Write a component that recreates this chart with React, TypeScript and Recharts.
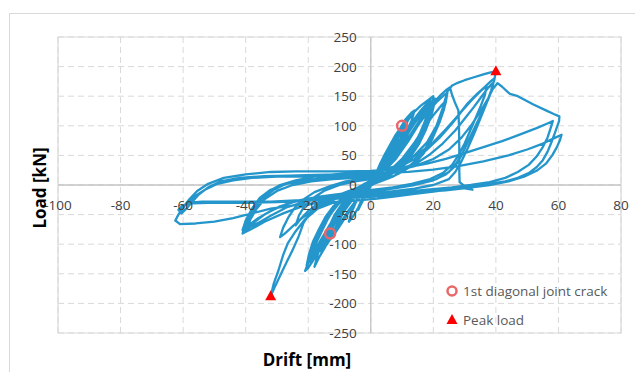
import React from "react";
import {
  ScatterChart,
  Scatter,
  XAxis,
  YAxis,
  CartesianGrid,
  ReferenceLine,
  ReferenceArea,
} from "recharts";

// ---------- data (drift mm, load kN) ----------
const smallCycles: number[][] = [
  [0, 0], [1, 10], [2, 22], [1.5, 14], [0.5, 3], [-0.5, -6], [-1.5, -16], [-2, -22], [-1.2, -10], [0, 0],
  [1, 12], [2.5, 28], [4, 45], [3.2, 32], [2, 16], [0.5, 3], [-1, -10], [-2.5, -26], [-4, -42], [-3, -28], [-1.5, -10], [0, 2],
  [1.5, 18], [3, 36], [4.5, 52], [6, 66], [5, 52], [3.5, 32], [2, 14], [0.5, 4], [-1, -6], [-2.5, -20], [-4, -38], [-5.5, -52], [-7, -62], [-6, -45], [-4.5, -26], [-3, -12], [-1, -2], [0.5, 6],
];

const cycles10: number[][] = [
  [2, 22], [4, 44], [6, 66], [8, 85], [10, 100], [9.2, 86], [8, 68], [6, 45], [4, 26], [2, 12], [0, 2], [-2, -10], [-4, -24], [-6, -38], [-8, -52], [-10, -66], [-12, -76], [-13, -82], [-12.2, -68], [-11, -52], [-9, -34], [-7, -20], [-5, -10], [-3, -3], [-1, 3], [1, 10],
  [3, 26], [5, 48], [7, 70], [9, 90], [11, 106], [12, 112], [11, 96], [9.5, 78], [7.5, 56], [5.5, 36], [3, 18], [1, 6], [-1, -4], [-3, -16], [-5, -30], [-7, -46], [-9, -62], [-11, -78], [-13, -92], [-15, -102], [-14, -86], [-12.5, -66], [-10.5, -46], [-8, -28], [-6, -16], [-3, -6], [-1, 2], [1, 12],
  [3, 30], [5, 50], [7, 72], [9, 92], [11, 110], [13, 122], [14, 126], [13, 108], [11, 86], [9, 64], [7, 46], [5, 30], [3, 16], [1, 6], [-1, -5], [-3, -18], [-6, -36], [-9, -58], [-12, -84], [-14, -100], [-16, -112], [-15, -96], [-13, -74], [-11, -52], [-8, -32], [-5, -16], [-2, -4], [0, 4],
  [2, 18], [4, 38], [6, 58], [8, 78], [10, 96], [11.5, 104], [10.6, 90], [9, 70], [7, 50], [5, 32], [3, 18], [1, 8], [-1, -2], [-3, -14], [-5, -28], [-7, -42], [-9, -58], [-11, -72], [-13, -86], [-14, -94], [-13, -76], [-11.5, -58], [-9.5, -40], [-7, -24], [-4, -10], [-1, 0], [1, 8],
];

const cycles20: number[][] = [
  [2, 16], [4, 32], [6, 52], [8, 72], [10, 92], [12, 110], [14, 124], [16, 134], [18, 142], [20, 150], [19.5, 136], [18.5, 118], [17, 98], [15, 76], [13, 58], [11, 44], [8, 30], [5, 20], [2, 10], [0, 4], [-2, -4], [-4, -12], [-6, -22], [-8, -36], [-10, -52], [-12, -70], [-14, -88], [-16, -106], [-18, -124], [-20, -140], [-21, -145], [-19.5, -125], [-18, -104], [-16, -82], [-14, -60], [-12, -42], [-9, -24], [-6, -12], [-3, -2], [0, 6],
  [3, 16], [6, 34], [8, 52], [10, 72], [12, 92], [14, 110], [16, 124], [18, 134], [20, 140], [19.4, 124], [18.2, 104], [16.5, 84], [14.5, 64], [12, 46], [9, 30], [6, 18], [3, 8], [0, 0], [-3, -10], [-6, -22], [-8, -34], [-10, -48], [-12, -66], [-14, -84], [-16, -102], [-18, -118], [-19.5, -130], [-18.5, -112], [-17, -92], [-15, -70], [-13, -50], [-10, -30], [-7, -16], [-4, -6], [-1, 4],
  [2, 14], [5, 30], [8, 50], [10, 68], [12, 88], [14, 104], [16, 118], [18, 128], [19.5, 134], [18.8, 116], [17.5, 96], [15.5, 74], [13, 54], [10, 36], [7, 22], [4, 10], [1, 2], [-2, -8], [-5, -18], [-8, -32], [-11, -52], [-13, -70], [-15, -88], [-17, -106], [-19, -122], [-18, -102], [-16, -80], [-14, -58], [-11, -36], [-8, -20], [-5, -8], [-2, 2], [1, 10],
  [3, 18], [6, 40], [9, 64], [12, 90], [15, 114], [17, 128], [19, 138], [20.5, 146], [20, 130], [19, 112], [17.5, 92], [15.5, 70], [13, 50], [10, 34], [7, 22], [4, 12], [1, 4], [-2, -6], [-5, -16], [-8, -30], [-11, -50], [-13, -68], [-15, -86], [-17, -104], [-19, -120], [-20.5, -136], [-19.8, -118], [-18.5, -96], [-16.5, -74], [-14.5, -54], [-12, -36], [-9, -22], [-6, -10], [-3, -2], [0, 6],
  [3, 20], [6, 42], [9, 68], [12, 94], [14, 112], [16, 126], [18, 138], [19, 144], [18.4, 126], [17.2, 106], [15.6, 86], [13.5, 64], [11, 46], [8, 30], [5, 18], [2, 8], [-1, -2], [-4, -12], [-7, -26], [-10, -44], [-13, -66], [-15, -84], [-17, -102], [-18.5, -118], [-20, -132], [-19, -112], [-17.5, -90], [-15.5, -68], [-13, -46], [-10, -28], [-7, -14], [-4, -4], [-1, 4], [2, 12],
  [4, 24], [7, 48], [10, 74], [13, 98], [16, 120], [18.5, 136], [20, 142], [19.2, 122], [17.8, 100], [16, 78], [14, 58], [11.5, 40], [8.5, 26], [5.5, 14], [2.5, 6], [-0.5, -2], [-3.5, -12], [-6, -26], [-8.5, -44], [-10.5, -64], [-12.5, -84], [-14.5, -104], [-16.5, -122], [-18, -138], [-17, -118], [-15.5, -96], [-13.5, -72], [-11.5, -50], [-9, -30], [-6, -14], [-3, -4], [0, 4], [2, 12],
];

const cycles25: number[][] = [
  [4, 22], [8, 44], [12, 74], [15, 100], [18, 122], [21, 140], [23.5, 152], [24.5, 156], [24, 140], [23, 122], [21.5, 100], [19.5, 76], [17, 54], [14, 36], [10, 22], [6, 12], [2, 4], [-2, -4], [-6, -12], [-10, -20], [-14, -30], [-18, -42], [-22, -56], [-25, -70], [-27.5, -82], [-29, -88], [-28, -72], [-26.5, -56], [-24.5, -40], [-22, -26], [-18, -12], [-13, -2], [-8, 6], [-3, 10], [2, 14],
  [6, 24], [10, 44], [14, 72], [17, 96], [20, 118], [22.5, 134], [24, 142], [23.3, 126], [22, 106], [20, 84], [17.5, 62], [14.5, 42], [11, 26], [7, 14], [3, 6], [-1, -2], [-5, -8], [-9, -14], [-13, -22], [-17, -32], [-20, -44], [-22.5, -58], [-24, -68], [-23, -52], [-21.5, -38], [-19, -24], [-15, -10], [-10, 0], [-5, 6], [0, 10],
];

const peakCycles: number[][] = [
  [4, 24], [8, 48], [12, 80], [16, 112], [19, 134], [22, 150], [24, 160], [25.3, 165], [26, 152], [27, 138], [28, 126], [28.2, 100], [28.3, 60], [28.3, 25], [28.4, 5], [30, -2], [32.5, -8], [28, -4], [22, -8], [16, -10], [10, -12], [4, -14], [0, -16],
  [-6, -22], [-12, -30], [-17, -40], [-21, -58], [-24, -78], [-26.5, -98], [-28, -118], [-29.5, -144], [-31, -166], [-32, -188], [-30.5, -170], [-28.5, -148], [-26.5, -126], [-25, -110], [-23, -86], [-21.5, -64], [-19, -44], [-15, -28], [-10, -16], [-5, -6], [0, 4], [5, 14],
  [10, 30], [14, 50], [18, 72], [21, 100], [23, 130], [24.5, 158], [26, 168], [28, 173], [30, 177], [33, 182], [36, 187], [38, 190], [40, 192],
  [39.5, 178], [38.5, 160], [37, 138], [35, 112], [33, 86], [31, 62], [29, 40], [27, 22], [25, 10], [20, 0], [14, -6], [8, -10], [2, -14], [-4, -18], [-10, -22], [-16, -28], [-22, -36], [-28, -48], [-34, -62], [-38, -74], [-41, -82], [-40, -66], [-38, -46], [-36, -28], [-33, -12], [-29, 0], [-24, 8], [-18, 14], [-12, 18], [-6, 20], [0, 22], [4, 26],
  [8, 32], [12, 42], [16, 56], [20, 72], [24, 94], [28, 118], [31, 138], [34, 154], [36.5, 166], [38.5, 176], [39.5, 180], [38.8, 162], [37.5, 144], [35.5, 122], [33.5, 100], [31.5, 78], [29.5, 56], [27.5, 38], [25, 22], [21, 10], [15, 2], [9, -4], [3, -10], [-3, -14], [-9, -18], [-15, -22], [-21, -28], [-27, -38], [-32, -52], [-36, -64], [-39, -72], [-40.5, -80], [-39.5, -62], [-37.5, -42], [-35, -24], [-31, -8], [-27, 2], [-21, 8], [-14, 12], [-7, 14], [0, 16], [5, 20],
  [10, 28], [15, 38], [19, 52], [23, 70], [27, 92], [30, 112], [33, 132], [35.5, 150], [37.5, 164], [39, 172], [38.3, 155], [36.8, 136], [35, 116], [33, 94], [31, 72], [29, 50], [27, 32], [24, 18], [20, 8], [14, 0], [7, -6], [0, -10], [-7, -14], [-14, -18], [-21, -24], [-27, -32], [-32, -44], [-36, -56], [-39, -68], [-41, -76], [-40, -60], [-38, -40], [-35.5, -22], [-32, -8], [-27, 2], [-20, 8], [-12, 12], [-4, 14], [2, 16],
  [9, 30], [14, 44], [18, 60], [22, 80], [26, 104], [29, 124], [32, 142], [35, 158], [37, 168], [36.5, 152], [35.2, 134], [33.6, 114], [31.8, 92], [30, 70], [28, 50], [26, 34], [23, 20], [19, 10], [13, 2], [7, -4], [1, -8], [-5, -12], [-11, -16], [-17, -20], [-23, -26], [-29, -36], [-34, -50], [-37, -62], [-39.5, -74], [-38.5, -58], [-36.5, -40], [-34, -24], [-30, -10], [-25, 0], [-19, 6], [-12, 10], [-5, 12], [1, 14],
];

const cycles60: number[][] = [
  [8, 24], [14, 32], [20, 44], [25, 60], [29, 80], [32, 100], [35, 124], [37.5, 146], [39, 162], [40.5, 172], [42, 166], [44, 156], [44.5, 154], [47, 150], [52, 136], [56, 126], [58.5, 120], [60.3, 116],
  [60.2, 108], [59.4, 96], [58.6, 84], [57.6, 70], [56.5, 56], [55, 42], [53, 30], [50.5, 20], [47, 12], [43, 6], [38, 2], [32, -3], [26, -7], [20, -11], [14, -15], [8, -19], [2, -23],
  [-4, -26], [-10, -28], [-16, -30], [-24, -34], [-32, -40], [-38, -48], [-44, -56], [-50, -62], [-56, -65], [-61, -66], [-62.5, -60], [-61.5, -50], [-60, -38], [-58, -24], [-55.5, -10], [-52, 2], [-47, 12], [-40, 18], [-32, 22], [-24, 23], [-16, 23], [-8, 23], [0, 24], [6, 26],
  [12, 30], [18, 36], [24, 44], [30, 54], [36, 64], [42, 74], [48, 86], [53, 96], [56.5, 104], [58.2, 108], [57.5, 96], [56.5, 80], [55, 64], [53, 48], [50.5, 34], [47, 22], [43, 12], [38, 5], [32, 0], [26, -4], [18, -8], [10, -12], [2, -16],
  [-6, -20], [-14, -24], [-22, -27], [-30, -29], [-38, -30], [-46, -30], [-52, -30], [-57, -31], [-60, -34], [-61.5, -42], [-60.5, -48], [-59, -40], [-57, -28], [-55, -16], [-52, -4], [-48, 6], [-42, 12], [-34, 15], [-26, 16], [-18, 17], [-10, 18], [-2, 19], [4, 20],
  [12, 22], [20, 26], [28, 32], [36, 40], [44, 50], [50, 60], [55, 70], [59, 80], [61, 85], [60.5, 76], [59.5, 64], [58, 50], [56, 36], [53, 24], [49, 14], [44, 6], [38, 0], [31, -5], [24, -9], [16, -12], [8, -16], [0, -20],
  [-8, -22], [-16, -24], [-24, -26], [-32, -28], [-40, -28], [-48, -28], [-54, -28], [-58, -30], [-59.5, -34], [-58, -28], [-56, -18], [-53, -8], [-49, 2], [-44, 8], [-38, 12], [-30, 14], [-22, 14], [-14, 14], [-6, 15], [0, 16],
];

const crackPoints: number[][] = [[10, 100], [-13, -82]];
const peakPoints: number[][] = [[40, 192], [-32, -188]];

const xTicks = [-100, -80, -60, -40, -20, 0, 20, 40, 60, 80];
const yTicks = [-250, -200, -150, -100, -50, 0, 50, 100, 150, 200, 250];

const xTitle = "Drift [mm]";
const yTitle = "Load [kN]";
const crackLabel = "1st diagonal joint crack";
const peakLabel = "Peak load";

// ---------- build ----------
const toXY = (arr: number[][]) => arr.map(([x, y]) => ({ x, y }));
const hysteresis = toXY([
  ...smallCycles,
  ...cycles10,
  ...cycles20,
  ...cycles25,
  ...peakCycles,
  ...cycles60,
]);
const crackData = toXY(crackPoints);
const peakData = toXY(peakPoints);

// ---------- layout ----------
const W = 635;
const H = 372;
const AXIS_SIZE = 1;
const MARGIN = { top: 37, right: 14, bottom: 38, left: 57 };
const PLOT_W = W - MARGIN.left - MARGIN.right - AXIS_SIZE;
const PLOT_H = H - MARGIN.top - MARGIN.bottom - AXIS_SIZE;
const PLOT_LEFT = MARGIN.left + AXIS_SIZE;
const X_DOMAIN: [number, number] = [xTicks[0], xTicks[xTicks.length - 1]];
const Y_DOMAIN: [number, number] = [yTicks[0], yTicks[yTicks.length - 1]];
const ZERO_X = PLOT_LEFT + (PLOT_W * (0 - X_DOMAIN[0])) / (X_DOMAIN[1] - X_DOMAIN[0]);
const ZERO_Y = MARGIN.top + (PLOT_H * (Y_DOMAIN[1] - 0)) / (Y_DOMAIN[1] - Y_DOMAIN[0]);

const LINE_COLOR = "#2496CB";
const TICK_COLOR = "#404040";
const TEXT_COLOR = "#595959";
const FONT = "'Open Sans', 'Noto Sans', sans-serif";

const XTick = (props: any) => (
  <text
    x={props.x}
    y={ZERO_Y + 25}
    textAnchor="middle"
    fill={TICK_COLOR}
    fontSize={13.5}
    fontFamily={FONT}
  >
    {props.payload.value}
  </text>
);

const YTick = (props: any) => (
  <text
    x={ZERO_X - 14}
    y={props.y + 5}
    textAnchor="end"
    fill={TICK_COLOR}
    fontSize={13.5}
    fontFamily={FONT}
  >
    {props.payload.value}
  </text>
);

const NoDot = () => <g />;

const CrackShape = (props: any) => (
  <circle cx={props.cx} cy={props.cy} r={5} fill="none" stroke="#E8686A" strokeWidth={2.5} />
);

const PeakShape = (props: any) => {
  const { cx, cy } = props;
  return (
    <polygon
      points={`${cx},${cy - 6} ${cx - 5.5},${cy + 4} ${cx + 5.5},${cy + 4}`}
      fill="#FF0000"
    />
  );
};

export default function App() {
  return (
    <div
      style={{
        position: "absolute",
        left: 0,
        top: 0,
        width: W,
        height: H,
        overflow: "hidden",
        background: "#ffffff",
      }}
    >
      <div
        style={{
          position: "absolute",
          left: 9,
          top: 13,
          width: W,
          height: H,
          border: "1px solid #d9d9d9",
        }}
      />
      <div style={{ position: "absolute", left: 0, top: 0 }}>
        <ScatterChart width={W} height={H} margin={MARGIN}>
          <CartesianGrid stroke="#d9d9d9" strokeDasharray="6 4" />
          <ReferenceArea
            x1={X_DOMAIN[0]}
            x2={X_DOMAIN[1]}
            y1={Y_DOMAIN[0]}
            y2={Y_DOMAIN[1]}
            fill="none"
            stroke="#d9d9d9"
            strokeWidth={1.2}
            ifOverflow="visible"
          />
          <ReferenceLine x={0} stroke="#c4c4c4" strokeWidth={1.3} />
          <ReferenceLine y={0} stroke="#c4c4c4" strokeWidth={1.3} />
          <XAxis
            type="number"
            dataKey="x"
            domain={X_DOMAIN}
            ticks={xTicks}
            height={AXIS_SIZE}
            axisLine={false}
            tickLine={false}
            tick={XTick}
            interval={0}
            allowDataOverflow
          />
          <YAxis
            type="number"
            dataKey="y"
            domain={Y_DOMAIN}
            ticks={yTicks}
            width={AXIS_SIZE}
            axisLine={false}
            tickLine={false}
            tick={YTick}
            interval={0}
            allowDataOverflow
          />
          <Scatter
            data={hysteresis}
            line={{ stroke: LINE_COLOR, strokeWidth: 2.3, strokeLinejoin: "round" }}
            lineType="joint"
            shape={<NoDot />}
            isAnimationActive={false}
          />
          <Scatter data={crackData} shape={<CrackShape />} isAnimationActive={false} />
          <Scatter data={peakData} shape={<PeakShape />} isAnimationActive={false} />
        </ScatterChart>
      </div>
      <svg
        width={W}
        height={H}
        style={{ position: "absolute", left: 0, top: 0, pointerEvents: "none" }}
      >
        <text
          x={307}
          y={366}
          textAnchor="middle"
          fontFamily={FONT}
          fontWeight="bold"
          fontSize={17}
          fill="#000"
        >
          {xTitle}
        </text>
        <text
          transform={`translate(46, 188) rotate(-90)`}
          textAnchor="middle"
          fontFamily={FONT}
          fontWeight="bold"
          fontSize={17}
          fill="#000"
        >
          {yTitle}
        </text>
        <circle cx={452} cy={291} r={4.5} fill="none" stroke="#E8686A" strokeWidth={2.5} />
        <text x={463} y={296} fontFamily={FONT} fontSize={13.5} fill={TEXT_COLOR}>
          {crackLabel}
        </text>
        <polygon points="452,314 446.5,324 457.5,324" fill="#FF0000" />
        <text x={463} y={325} fontFamily={FONT} fontSize={13.5} fill={TEXT_COLOR}>
          {peakLabel}
        </text>
      </svg>
    </div>
  );
}
